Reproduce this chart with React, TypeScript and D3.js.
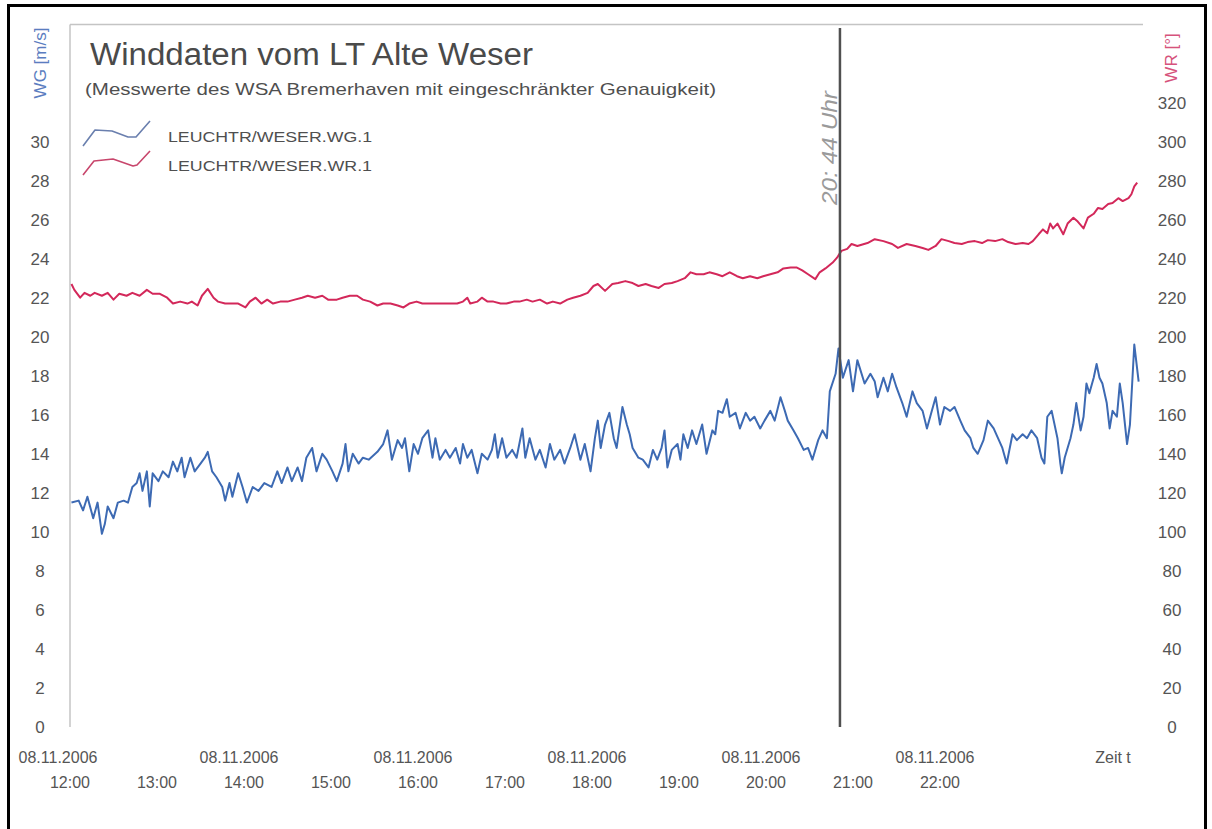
import React from 'react';
import * as d3 from 'd3';

// ---------- data ----------
const startTime = new Date(2006, 10, 8, 12, 0);
const endTime = new Date(2006, 10, 9, 0, 20);

const hourTickHours = [12, 13, 14, 15, 16, 17, 18, 19, 20, 21, 22];
const dateTickHours = [12, 14, 16, 18, 20, 22];
const wgTicks = [0, 2, 4, 6, 8, 10, 12, 14, 16, 18, 20, 22, 24, 26, 28, 30];
const wrTicks = [0, 20, 40, 60, 80, 100, 120, 140, 160, 180, 200, 220, 240, 260, 280, 300, 320];

const titleText = 'Winddaten vom LT Alte Weser';
const subtitleText = '(Messwerte des WSA Bremerhaven mit eingeschränkter Genauigkeit)';
const seriesNames = ['LEUCHTR/WESER.WG.1', 'LEUCHTR/WESER.WR.1'];
const markerMinute = 531; // cursor line (minutes after 12:00)
const markerNote = '20: 44 Uhr';

// [minutes after 12:00, wind speed m/s]
const wgReadings: [number, number][] = [
  [1, 11.5], [6, 11.6], [9, 11.1], [12, 11.8], [16, 10.7], [19, 11.5], [22, 9.9], [24, 10.4], [26, 11.3], [30, 10.7],
  [33, 11.5], [37, 11.6], [40, 11.5], [43, 12.3], [46, 12.5], [48, 13.0], [50, 12.1], [53, 13.1], [55, 11.3], [57, 13.0],
  [61, 12.6], [64, 13.1], [68, 12.8], [71, 13.6], [74, 13.1], [77, 13.8], [79, 12.8], [83, 13.8], [86, 13.1], [90, 13.5],
  [93, 13.8], [95, 14.1], [98, 13.1], [101, 12.8], [105, 12.3], [107, 11.6], [110, 12.5], [112, 11.8], [116, 13.0], [119, 12.3],
  [122, 11.5], [126, 12.3], [130, 12.1], [134, 12.5], [139, 12.3], [143, 13.1], [146, 12.5], [150, 13.3], [153, 12.6], [157, 13.3],
  [160, 12.6], [163, 13.8], [167, 14.3], [170, 13.1], [174, 14.0], [177, 13.7], [181, 13.1], [184, 12.6], [188, 13.5], [190, 14.5],
  [192, 13.1], [195, 14.0], [199, 13.5], [202, 13.8], [206, 13.7], [209, 13.9], [212, 14.1], [216, 14.5], [219, 15.2], [222, 13.7],
  [226, 14.7], [229, 14.3], [231, 14.8], [234, 13.1], [237, 14.5], [240, 14.0], [243, 14.8], [247, 15.2], [250, 13.8], [252, 14.8],
  [255, 13.7], [259, 14.2], [262, 13.8], [266, 14.3], [269, 13.5], [271, 14.5], [274, 13.8], [277, 14.2], [281, 13.0], [284, 14.0],
  [288, 13.7], [291, 14.2], [293, 15.0], [295, 13.8], [298, 14.8], [301, 13.8], [305, 14.2], [308, 13.8], [312, 15.3], [314, 13.8],
  [317, 14.8], [321, 13.7], [324, 14.2], [328, 13.3], [331, 14.5], [334, 13.7], [338, 14.2], [341, 13.5], [345, 14.3], [348, 15.0],
  [352, 13.7], [355, 14.5], [359, 13.1], [362, 14.8], [364, 15.7], [366, 14.3], [369, 15.5], [372, 16.1], [375, 14.8], [377, 14.3],
  [381, 16.4], [384, 15.5], [386, 15.0], [388, 14.3], [392, 13.8], [395, 13.7], [399, 13.3], [402, 14.2], [405, 13.7], [408, 14.3],
  [410, 15.2], [412, 13.3], [415, 14.2], [419, 14.5], [421, 13.7], [423, 15.0], [426, 14.3], [429, 15.2], [432, 14.5], [436, 15.5],
  [439, 14.0], [443, 15.2], [445, 15.0], [447, 16.2], [450, 16.1], [453, 16.8], [455, 15.9], [459, 16.1], [462, 15.3], [466, 16.1],
  [469, 15.7], [472, 15.9], [476, 15.3], [479, 15.7], [483, 16.2], [486, 15.7], [490, 16.9], [493, 16.2], [495, 15.7], [499, 15.2],
  [502, 14.8], [506, 14.2], [509, 14.3], [512, 13.7], [516, 14.7], [519, 15.2], [522, 14.8], [524, 17.2], [528, 18.1], [530, 19.4],
  [533, 17.9], [537, 18.8], [540, 17.2], [543, 18.8], [548, 17.6], [552, 18.1], [555, 17.7], [557, 16.9], [561, 17.9], [564, 17.2],
  [567, 18.1], [570, 17.4], [574, 16.6], [577, 15.9], [581, 17.2], [584, 16.6], [588, 16.2], [591, 15.3], [594, 16.1], [597, 16.9],
  [600, 15.5], [603, 16.4], [607, 16.2], [610, 16.4], [614, 15.7], [617, 15.2], [621, 14.8], [623, 14.3], [626, 14.0], [630, 14.7],
  [633, 15.7], [637, 15.3], [640, 14.8], [643, 14.3], [646, 13.5], [650, 15.0], [653, 14.7], [657, 15.0], [660, 14.8], [663, 15.2],
  [667, 14.8], [670, 13.8], [672, 13.5], [674, 15.9], [677, 16.2], [681, 14.8], [683, 13.5], [684, 13.0], [686, 13.8], [690, 14.8],
  [692, 15.5], [694, 16.6], [697, 15.2], [699, 15.9], [701, 17.6], [703, 17.1], [706, 17.9], [708, 18.6], [710, 17.9], [712, 17.6],
  [715, 16.6], [717, 15.3], [719, 16.2], [722, 15.9], [724, 17.6], [726, 16.6], [729, 14.5], [731, 15.5], [734, 19.6], [737, 17.7],
];

// [minutes after 12:00, wind direction degrees]
const wrReadings: [number, number][] = [
  [1, 227], [3, 224], [7, 220], [10, 222.5], [14, 221], [17, 222.5], [22, 221], [26, 222.5], [30, 219], [34, 222],
  [39, 221], [43, 222.5], [48, 221], [53, 224], [57, 222], [62, 222], [67, 220], [71, 217], [76, 218], [81, 217],
  [84, 218], [88, 216], [91, 221], [95, 224.5], [99, 220], [102, 218], [107, 217], [112, 217], [116, 217], [121, 215],
  [124, 218], [128, 220], [132, 217], [136, 219], [140, 217], [145, 218], [150, 218], [155, 219], [160, 220], [164, 221],
  [169, 220], [174, 221], [178, 219], [184, 219], [188, 220], [193, 221], [198, 221], [202, 219], [207, 218], [212, 216],
  [216, 217], [221, 217], [226, 216], [230, 215], [234, 217], [239, 218], [243, 217], [248, 217], [253, 217], [257, 217],
  [262, 217], [267, 217], [271, 218], [274, 220], [276, 217], [281, 218], [284, 220], [288, 218], [292, 218], [297, 217],
  [301, 217], [306, 218], [310, 218], [315, 219], [319, 218], [324, 219], [329, 217], [333, 218], [338, 217], [343, 219],
  [347, 220], [352, 221], [357, 222.5], [361, 226], [364, 227], [369, 223.5], [374, 227], [378, 227.5], [383, 228.5], [388, 227.5],
  [392, 226], [397, 227], [401, 226], [406, 225], [410, 227], [415, 227.5], [419, 228.5], [424, 230], [428, 233], [432, 232],
  [437, 232], [441, 233], [446, 232], [450, 231], [455, 233], [460, 231], [464, 230], [469, 231], [474, 230], [478, 231],
  [483, 232], [488, 233], [492, 235], [497, 235.5], [501, 235.5], [505, 234], [509, 232], [514, 229.5], [517, 233], [521, 235],
  [526, 238], [529, 240.5], [532, 244], [536, 245], [539, 247.5], [543, 246.5], [550, 248], [555, 250], [561, 249], [567, 247.5],
  [571, 245.5], [577, 247.5], [583, 246.5], [588, 245.5], [592, 244.5], [597, 246.5], [601, 250], [606, 249], [610, 248], [615, 247.5],
  [619, 248.5], [624, 249], [629, 248], [633, 249.5], [638, 249], [643, 250], [647, 248.5], [652, 247.5], [657, 248], [661, 247.5],
  [664, 249], [668, 252.5], [671, 255], [674, 253], [676, 258], [678, 255.5], [681, 258], [685, 252.5], [688, 258], [692, 261],
  [695, 259], [699, 255.5], [702, 261], [706, 263], [709, 266], [712, 265.5], [716, 268], [719, 268.5], [723, 271], [726, 269.5],
  [730, 271], [732, 273], [734, 277], [736, 279],
];

// ---------- chart ----------
const W = 1212;
const H = 829;
const plotLeft = 70;
const plotRight = 1143;
const plotTop = 24.5;
const plotBottom = 727;
const FONT = "'Liberation Sans', Arial, Helvetica, sans-serif";

const atMinute = (m: number) => new Date(startTime.getTime() + m * 60000);
const atHour = (h: number) => new Date(2006, 10, 8, h, 0);
const fmtTime = d3.timeFormat('%H:%M');
const fmtDate = d3.timeFormat('%d.%m.%Y');

export default function App() {
  const x = d3.scaleTime().domain([startTime, endTime]).range([plotLeft, plotRight]);
  const yL = d3.scaleLinear().domain([0, 36]).range([plotBottom, plotTop]);
  const yR = d3.scaleLinear().domain([0, 360]).range([plotBottom, plotTop]);

  const wgLine = d3
    .line<[number, number]>()
    .x((d) => x(atMinute(d[0])))
    .y((d) => yL(d[1]));
  const wrLine = d3
    .line<[number, number]>()
    .x((d) => x(atMinute(d[0])))
    .y((d) => yR(d[1]));

  const mx = x(atMinute(markerMinute));
  const blue = '#3d6ab3';
  const red = '#d3285a';

  return (
    <svg
      width={W}
      height={H}
      viewBox={`0 0 ${W} ${H}`}
      style={{ position: 'absolute', left: 0, top: 0, background: '#fff' }}
      fontFamily={FONT}
    >
      <rect x={0} y={0} width={W} height={H} fill="#fff" />
      {/* outer scan frame */}
      <rect x={8.5} y={5.5} width={1197} height={900} fill="none" stroke="#000" strokeWidth={3} />

      {/* plot frame */}
      <line x1={plotLeft} x2={plotRight} y1={plotTop} y2={plotTop} stroke="#c4c4c4" strokeWidth={1.5} />
      <line x1={plotLeft} x2={plotLeft} y1={plotTop} y2={plotBottom} stroke="#c4c4c4" strokeWidth={1.5} />

      {/* title */}
      <text x={90} y={65} fontSize={31} fill="#4a4a4a" textLength={443} lengthAdjust="spacingAndGlyphs">
        {titleText}
      </text>
      <text x={85} y={95} fontSize={17} fill="#4f4f4f" textLength={631} lengthAdjust="spacingAndGlyphs">
        {subtitleText}
      </text>

      {/* legend */}
      <polyline
        points="83,146 95,130 112,131 128,137 136,137 150,121"
        fill="none"
        stroke="#6a7fae"
        strokeWidth={1.6}
        strokeLinejoin="round"
      />
      <polyline
        points="83,175 94,161 113,159 133,166 137,165 150,151"
        fill="none"
        stroke="#c8466c"
        strokeWidth={1.6}
        strokeLinejoin="round"
      />
      <text x={168} y={142} fontSize={14} fill="#4f4f4f" textLength={204} lengthAdjust="spacingAndGlyphs">
        {seriesNames[0]}
      </text>
      <text x={168} y={171} fontSize={14} fill="#4f4f4f" textLength={204} lengthAdjust="spacingAndGlyphs">
        {seriesNames[1]}
      </text>

      {/* axis titles */}
      <text
        transform="translate(46,63) rotate(-90)"
        textAnchor="middle"
        fontSize={17}
        fill="#5b7dc0"
      >
        WG [m/s]
      </text>
      <text
        transform="translate(1177,58) rotate(-90)"
        textAnchor="middle"
        fontSize={17}
        fill="#d6537c"
      >
        WR [°]
      </text>

      {/* left ticks */}
      {wgTicks.map((v) => (
        <text key={'l' + v} x={40} y={yL(v)} dy="0.35em" textAnchor="middle" fontSize={17} fill="#555">
          {v}
        </text>
      ))}
      {/* right ticks */}
      {wrTicks.map((v) => (
        <text key={'r' + v} x={1172} y={yR(v)} dy="0.35em" textAnchor="middle" fontSize={17} fill="#555">
          {v}
        </text>
      ))}

      {/* x ticks */}
      {dateTickHours.map((h, i) => (
        <text
          key={'d' + h}
          x={x(atHour(h))}
          dx={i === 0 ? -12 : -5}
          y={763}
          textAnchor="middle"
          fontSize={16}
          fill="#555"
        >
          {fmtDate(atHour(h))}
        </text>
      ))}
      {hourTickHours.map((h) => (
        <text key={'h' + h} x={x(atHour(h))} y={788} textAnchor="middle" fontSize={16} fill="#555">
          {fmtTime(atHour(h))}
        </text>
      ))}
      <text x={1113} y={763} textAnchor="middle" fontSize={16} fill="#555">
        Zeit t
      </text>

      {/* series */}
      <path d={wrLine(wrReadings) || ''} fill="none" stroke={red} strokeWidth={2} strokeLinejoin="round" />
      <path d={wgLine(wgReadings) || ''} fill="none" stroke={blue} strokeWidth={2} strokeLinejoin="round" />

      {/* cursor marker */}
      <line x1={mx} x2={mx} y1={28} y2={plotBottom} stroke="#505050" strokeWidth={2.5} />
      <text
        transform={`translate(${mx - 3},148) rotate(-90)`}
        textAnchor="middle"
        fontSize={22}
        fill="#9a9a9a"
        fontStyle="italic"
        textLength={114}
        lengthAdjust="spacingAndGlyphs"
      >
        {markerNote}
      </text>
    </svg>
  );
}
